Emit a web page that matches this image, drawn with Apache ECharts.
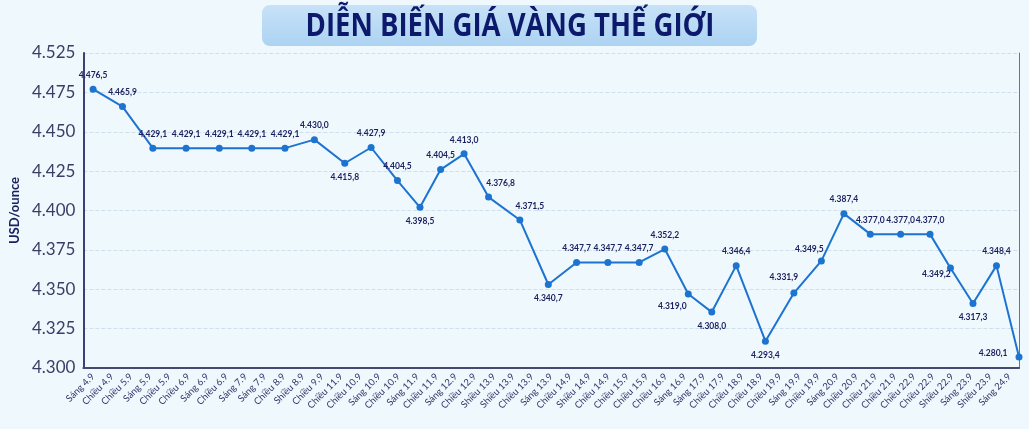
<!DOCTYPE html>
<html>
<head>
<meta charset="utf-8">
<script src="https://cdn.jsdelivr.net/npm/echarts@6/dist/echarts.min.js"></script>
<style>
  html, body { margin: 0; padding: 0; background: #eff8fd; }
  #main { width: 1029px; height: 429px; }
</style>
</head>
<body>
<div id="main"></div>
<script>
// nhãn trục hoành
var categories = ['Sáng 4.9','Chiều 4.9','Chiều 5.9','Sáng 5.9','Chiều 5.9','Chiều 6.9','Sáng 6.9','Chiều 6.9',
    'Sáng 7.9','Sáng 7.9','Chiều 8.9','Shiều 8.9','Chiều 9.9','Chiều 11.9','Chiều 10.9','Sáng 10.9','Chiều 10.9',
    'Sáng 11.9','Chiều 11.9','Sáng 12.9','Chiều 12.9','Shiều 13.9','Shiều 13.9','Chiều 13.9','Sáng 13.9',
    'Chiều 14.9','Shiều 14.9','Chiều 14.9','Chiều 15.9','Chiều 15.9','Chiều 16.9','Sáng 16.9','Sáng 17.9',
    'Chiều 17.9','Chiều 18.9','Chiều 18.9','Chiều 19.9','Sáng 19.9','Chiều 19.9','Sáng 20.9','Chiều 20.9',
    'Chiều 21.9','Chiều 21.9','Chiều 22.9','Chiều 22.9','Shiều 22.9','Sáng 23.9','Shiều 23.9','Sáng 24.9'];

// vị trí các điểm theo đơn vị nhãn (điểm không trùng nhãn)
var pointX = [0.51, 2.05, 3.64, 5.38, 7.12, 8.82, 10.56, 12.10, 13.69, 15.07, 16.45, 17.63, 18.71, 19.94,
    21.22, 22.86, 24.35, 25.83, 27.47, 29.11, 30.45, 31.68, 32.91, 34.19, 35.72, 37.21, 38.65, 39.83,
    41.21, 42.80, 44.34, 45.41, 46.59, 47.82, 49.0];

// giá như vẽ trên hình
var price = [4477, 4466, 4439.6, 4439.6, 4439.6, 4439.6, 4439.6, 4445, 4430, 4440, 4419, 4402, 4426, 4436,
    4408.5, 4394, 4353, 4367, 4367, 4367, 4375.5, 4347, 4335.5, 4365, 4317, 4347.6, 4368, 4398,
    4385, 4385, 4385, 4363.5, 4341, 4365, 4307];

// nhãn giá ghi trên điểm
var priceLabels = ['4.476,5','4.465,9','4.429,1','4.429,1','4.429,1','4.429,1','4.429,1','4.430,0','4.415,8',
    '4.427,9','4.404,5','4.398,5','4.404,5','4.413,0','4.376,8','4.371,5','4.340,7','4.347,7','4.347,7',
    '4.347,7','4.352,2','4.319,0','4.308,0','4.346,4','4.293,4','4.331,9','4.349,5','4.387,4','4.377,0',
    '4.377,0','4.377,0','4.349,2','4.317,3','4.348,4','4.280,1'];

var yTickLabels = ['4.300','4.325','4.350','4.375','4.400','4.425','4.450','4.475','4.525'];

var myChart = echarts.init(document.getElementById('main'));

// vị trí nhãn riêng cho vài điểm
var labelStyle = {
    8: {position: 'bottom'},
    11: {position: 'bottom'},
    14: {position: 'top', offset: [12, 0]},
    15: {position: 'top', offset: [10, 0]},
    16: {position: 'bottom'},
    21: {position: 'bottom', offset: [-16, -2]},
    22: {position: 'bottom'},
    24: {position: 'bottom'},
    25: {position: 'top', offset: [-10, -2]},
    26: {position: 'top', offset: [-12, 2]},
    31: {position: 'bottom', offset: [-14, -8]},
    32: {position: 'bottom'},
    34: {position: 'left', offset: [-2, -4]}
};

var seriesData = [];
for (var i = 0; i < price.length; i++) {
    var item = {value: [pointX[i], price[i]]};
    if (labelStyle[i]) item.label = labelStyle[i];
    seriesData.push(item);
}

var option = {
    backgroundColor: '#eff8fd',
    textStyle: {fontFamily: 'Lato, "Noto Sans", sans-serif'},
    graphic: [
        {
            type: 'rect',
            shape: {x: 262, y: 5, width: 495, height: 41, r: 8},
            style: {
                fill: new echarts.graphic.LinearGradient(0, 0, 0, 1, [
                    {offset: 0, color: '#c7e2f8'},
                    {offset: 1, color: '#acd3f2'}
                ])
            }
        },
        {
            type: 'text',
            x: 510, y: 27,
            scaleX: 0.86,
            style: {
                text: 'DIỄN BIẾN GIÁ VÀNG THẾ GIỚI',
                font: 'bold 32px "Open Sans", sans-serif',
                fill: '#0d1a6c',
                align: 'center',
                verticalAlign: 'middle'
            }
        }
    ],
    grid: {left: 63, right: 10, top: 53, bottom: 61},
    xAxis: [
        {
            type: 'category',
            data: categories,
            boundaryGap: true,
            axisLine: {lineStyle: {color: '#45486f', width: 2}},
            axisTick: {show: false},
            axisLabel: {interval: 0, rotate: 45, fontSize: 9.5, color: '#33376a', margin: 7}
        },
        {
            type: 'value',
            min: 0,
            max: 49,
            show: false
        }
    ],
    yAxis: [
        {
            type: 'value',
            min: 4300,
            max: 4500,
            interval: 25,
            name: 'USD/ounce',
            nameLocation: 'middle',
            nameGap: 50,
            nameTextStyle: {fontSize: 13, fontWeight: 'bold', color: '#1b2160'},
            axisLine: {show: true, lineStyle: {color: '#3d4070', width: 2}},
            axisTick: {show: false},
            axisLabel: {
                fontSize: 17, color: '#3a3e66', margin: 8,
                formatter: function (v) { return yTickLabels[Math.round((v - 4300) / 25)]; }
            },
            splitLine: {lineStyle: {color: '#cfe0ec', type: 'dashed', width: 1}}
        },
        {
            type: 'value',
            min: 4300,
            max: 4500,
            position: 'right',
            axisLine: {show: true, lineStyle: {color: '#6f7388', width: 1}},
            axisTick: {show: false},
            axisLabel: {show: false},
            splitLine: {show: false}
        }
    ],
    series: [
        {
            type: 'line',
            xAxisIndex: 1,
            yAxisIndex: 0,
            data: seriesData,
            clip: false,
            symbol: 'circle',
            symbolSize: 7,
            lineStyle: {color: '#1c74d0', width: 2},
            itemStyle: {color: '#1c74d0'},
            label: {
                show: true,
                position: 'top',
                distance: 6,
                fontSize: 8.5,
                fontWeight: 'bold',
                color: '#1a1f5e',
                formatter: function (p) { return priceLabels[p.dataIndex]; }
            },
            animation: false
        }
    ]
};
myChart.setOption(option);
</script>
</body>
</html>
